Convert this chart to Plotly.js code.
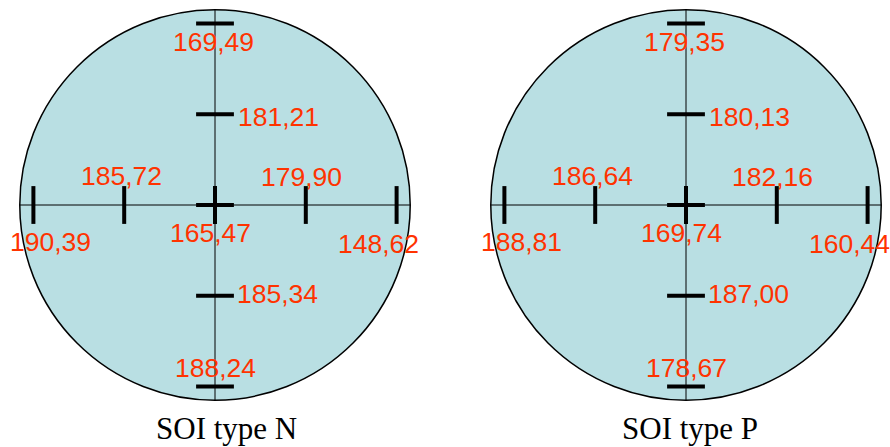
<!DOCTYPE html>
<html>
<head>
<meta charset="utf-8">
<script src="https://cdn.plot.ly/plotly-3.0.1.min.js"></script>
<style>html,body{margin:0;padding:0;background:#fff;}#chart{width:890px;height:447px;}</style>
</head>
<body>
<div id="chart"></div>
<script>
// ---- data ----
const waferTitles = ['SOI type N', 'SOI type P'];
const siteX = [0, 0, -1, 1, -2, 0, 2, 0, 0];
const siteY = [2, 1, 0, 0, 0, 0, 0, -1, -2];
const valuesN = [169.49, 181.21, 185.72, 179.90, 190.39, 165.47, 148.62, 185.34, 188.24];
const valuesP = [179.35, 180.13, 186.64, 182.16, 188.81, 169.74, 160.44, 187.00, 178.67];
const waferRadius = 2.15; // wafer edge in site-pitch units

// ---- styling / layout ----
const W = 890, H = 447;
const PX = 90.8;                    // pixels per site pitch
const centerPx = [[215, 205], [686, 205]];
const labelColor = '#ff3300';
const fillColor = '#b9dfe3';
// label offsets per site (px): [xshift, yshift, xanchor]
const labelOff = [
  [-2, -18.5, 'center'],
  [21, -3, 'left'],
  [-2.5, 29, 'center'],
  [-4, 28, 'center'],
  [17, -37, 'center'],
  [-5, -28, 'center'],
  [-18.5, -39, 'center'],
  [20, 2, 'left'],
  [0.5, 19, 'center']
];

function fmt(v) { return v.toFixed(2).replace('.', ','); }
function symbolFor(x, y) {
  if (x === 0 && y === 0) return 'cross-thin';
  if (y === 0) return 'line-ns';
  return 'line-ew';
}

const datasets = [valuesN, valuesP];
const traces = [];
const shapes = [];
const annotations = [];
const layout = {
  width: W, height: H,
  margin: {l: 0, r: 0, t: 0, b: 0},
  paper_bgcolor: '#ffffff', plot_bgcolor: 'rgba(0,0,0,0)',
  showlegend: false,
  hovermode: false
};

datasets.forEach((vals, k) => {
  const ax = k === 0 ? '' : '2';
  const xr = 'x' + ax, yr = 'y' + ax;
  const dom0 = k * 0.5, dom1 = k * 0.5 + 0.5;
  const cx = centerPx[k][0], cy = centerPx[k][1];
  const left = dom0 * W, right = dom1 * W;
  layout['xaxis' + ax] = {domain: [dom0, dom1], range: [(left - cx) / PX, (right - cx) / PX],
    visible: false, fixedrange: true, anchor: yr};
  layout['yaxis' + ax] = {domain: [0, 1], range: [-(H - cy) / PX, cy / PX],
    visible: false, fixedrange: true, anchor: xr};

  shapes.push({type: 'circle', xref: xr, yref: yr, x0: -waferRadius, x1: waferRadius,
    y0: -waferRadius, y1: waferRadius, fillcolor: fillColor, line: {color: '#000', width: 1.5}, layer: 'below'});
  shapes.push({type: 'line', xref: xr, yref: yr, x0: -waferRadius, x1: waferRadius, y0: 0, y1: 0,
    line: {color: '#000', width: 1}, layer: 'below'});
  shapes.push({type: 'line', xref: xr, yref: yr, x0: 0, x1: 0, y0: -waferRadius, y1: waferRadius,
    line: {color: '#000', width: 1}, layer: 'below'});

  traces.push({
    type: 'scatter', mode: 'markers', xaxis: xr, yaxis: yr,
    x: siteX, y: siteY,
    marker: {symbol: siteX.map((x, i) => symbolFor(x, siteY[i])), size: 27, color: '#000',
      line: {color: '#000', width: 4}},
    hoverinfo: 'skip'
  });

  vals.forEach((v, i) => {
    annotations.push({
      xref: xr, yref: yr, x: siteX[i], y: siteY[i], text: fmt(v), showarrow: false,
      xanchor: labelOff[i][2], yanchor: 'middle', xshift: labelOff[i][0], yshift: labelOff[i][1],
      font: {family: 'Liberation Sans, Arial, sans-serif', size: 26.5, color: labelColor}
    });
  });

  annotations.push({
    xref: xr, yref: yr, x: 0, y: -(428 - cy) / PX, text: waferTitles[k], showarrow: false,
    xanchor: 'center', yanchor: 'middle', xshift: k === 0 ? 11 : 4,
    font: {family: 'Liberation Serif, Times New Roman, serif', size: 31, color: '#000'}
  });
});

layout.shapes = shapes;
layout.annotations = annotations;
Plotly.newPlot('chart', traces, layout, {displayModeBar: false, staticPlot: true});
</script>
</body>
</html>
